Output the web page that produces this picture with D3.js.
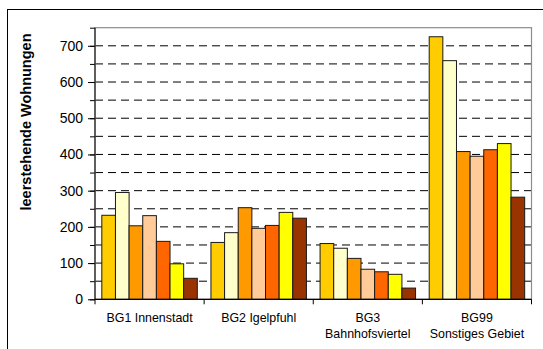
<!DOCTYPE html>
<html><head><meta charset="utf-8">
<script src="https://cdn.jsdelivr.net/npm/d3@7"></script>
<style>
html,body{margin:0;padding:0;background:#fff;}
svg{display:block;font-family:Arial,"Liberation Sans",sans-serif;}
</style></head>
<body>
<svg id="chart" width="543" height="349"></svg>
<script>
const categories = ["BG1 Innenstadt", "BG2 Igelpfuhl", "BG3\nBahnhofsviertel", "BG99\nSonstiges Gebiet"];
const seriesNames = ["S1", "S2", "S3", "S4", "S5", "S6", "S7"];
const seriesColors = ["#FFCC00", "#FFFFCC", "#FF9900", "#FFCC99", "#FF6600", "#FFFF00", "#993300"];
const s1 = [232, 157, 154, 725];
const s2 = [295, 184, 141, 659];
const s3 = [203, 253, 113, 408];
const s4 = [231, 196, 83, 395];
const s5 = [160, 204, 76, 413];
const s6 = [98, 240, 69, 430];
const s7 = [58, 224, 31, 282];
const seriesValues = [s1, s2, s3, s4, s5, s6, s7];
const yTickValues = [0, 100, 200, 300, 400, 500, 600, 700];
const yMax = 750;
const yTitle = "leerstehende Wohnungen";

const svg = d3.select("#chart");
const L = 95, R = 531.5, T = 27.7, B = 299.3;

// outer frame (clipped by the image edge)
svg.append("rect").attr("x", 7.5).attr("y", 9.5).attr("width", 700).attr("height", 500)
  .attr("fill", "#fff").attr("stroke", "#000").attr("stroke-width", 1);

const x0 = d3.scaleBand().domain(categories).range([L, R]).padding(0);
const x1 = d3.scaleBand().domain(seriesNames).range([0, x0.bandwidth()]).paddingInner(0).paddingOuter(0.5);
const y = d3.scaleLinear().domain([0, yMax]).range([B, T]);

// gridlines every 50
const gridVals = d3.range(50, yMax, 50);
svg.append("g").selectAll("line").data(gridVals).join("line")
  .attr("x1", L).attr("x2", R).attr("y1", d => y(d)).attr("y2", d => y(d))
  .attr("stroke", "#000").attr("stroke-width", 1).attr("stroke-dasharray", "8,5");

// plot border
svg.append("rect").attr("x", L).attr("y", T).attr("width", R - L).attr("height", B - T)
  .attr("fill", "none").attr("stroke", "#8c8c8c").attr("stroke-width", 1.2);

// bars
const data = [];
categories.forEach((c, ci) => {
  seriesNames.forEach((s, si) => data.push({c, s, si, v: seriesValues[si][ci]}));
});
svg.append("g").selectAll("rect").data(data).join("rect")
  .attr("x", d => x0(d.c) + x1(d.s))
  .attr("y", d => y(d.v))
  .attr("width", x1.bandwidth())
  .attr("height", d => y(0) - y(d.v))
  .attr("fill", d => seriesColors[d.si])
  .attr("stroke", "#1a1a1a").attr("stroke-width", 1);

// y axis
const yAxisMinor = d3.axisLeft(y).tickValues(d3.range(0, yMax + 1, 50)).tickSize(5).tickFormat("");
svg.append("g").attr("transform", `translate(${L},0)`).call(yAxisMinor)
  .call(g => g.select(".domain").remove())
  .call(g => g.selectAll("line").attr("stroke", "#000"));
const yAxis = d3.axisLeft(y).tickValues(yTickValues).tickSize(7).tickPadding(5);
svg.append("g").attr("transform", `translate(${L},0)`).call(yAxis)
  .call(g => g.select(".domain").remove())
  .call(g => g.selectAll("line").attr("stroke", "#000"))
  .call(g => g.selectAll("text").attr("font-size", 14).attr("fill", "#000").attr("font-family", "Arial, 'Liberation Sans', sans-serif"));
svg.append("line").attr("x1", L).attr("x2", L).attr("y1", T).attr("y2", B).attr("stroke", "#222").attr("stroke-width", 1.2);

// x axis
svg.append("line").attr("x1", L).attr("x2", R).attr("y1", B).attr("y2", B).attr("stroke", "#000").attr("stroke-width", 1.2);
const bounds = categories.map(c => x0(c)).concat([R]);
svg.append("g").selectAll("line").data(bounds).join("line")
  .attr("x1", d => d).attr("x2", d => d).attr("y1", B).attr("y2", B + 5)
  .attr("stroke", "#000");

const lab = svg.append("g").selectAll("text").data(categories).join("text")
  .attr("x", d => x0(d) + x0.bandwidth() / 2)
  .attr("y", 322.3)
  .attr("text-anchor", "middle").attr("font-size", 12.4).attr("fill", "#000");
lab.each(function(d) {
  const parts = d.split("\n");
  d3.select(this).selectAll("tspan").data(parts).join("tspan")
    .attr("x", x0(d) + x0.bandwidth() / 2)
    .attr("dy", (p, i) => i === 0 ? 0 : 16)
    .text(p => p);
});

// y title
svg.append("text").attr("transform", "translate(30.5,122) rotate(-90)")
  .attr("text-anchor", "middle").attr("font-size", 14.5).attr("font-weight", "bold")
  .attr("fill", "#000").text(yTitle);
</script>
</body></html>
